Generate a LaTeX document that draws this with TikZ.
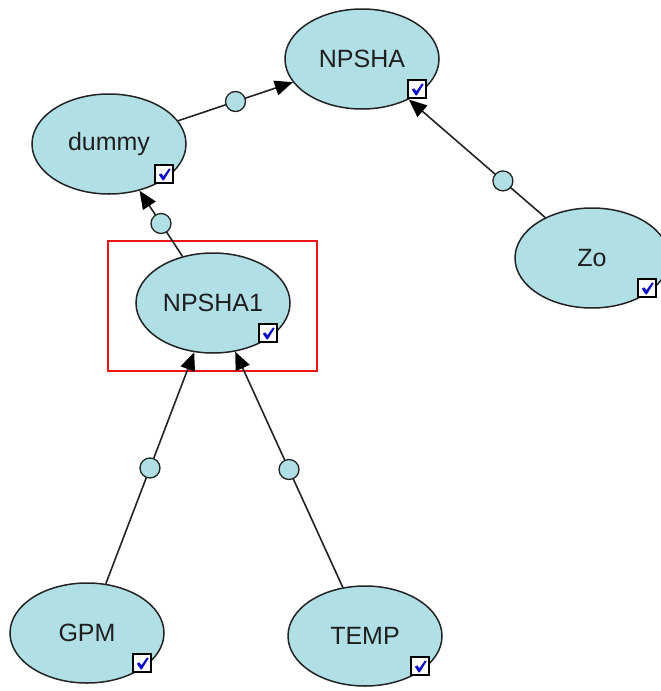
\documentclass[tikz,border=0pt]{standalone}
\usepackage{fontspec}
\setmainfont{Liberation Sans}
\usetikzlibrary{arrows.meta,shapes.geometric}

\definecolor{nodefill}{RGB}{176,224,230}
\definecolor{edgegray}{RGB}{35,35,35}
\definecolor{checkblue}{RGB}{15,15,200}
\definecolor{selred}{RGB}{235,20,20}

\tikzset{
  varnode/.style={ellipse, draw=edgegray, line width=1.5pt, fill=nodefill,
    minimum width=154pt, minimum height=100pt, inner sep=0pt,
    font=\fontsize{25}{30}\selectfont, text=black!88},
  link/.style={draw=edgegray, line width=1.6pt,
    -{Triangle[length=18pt,width=15pt,color=black]}},
  knob/.style={circle, draw=edgegray, line width=1.3pt, fill=nodefill,
    minimum size=20pt, inner sep=0pt},
  tickbox/.style={rectangle, draw=black, line width=1.4pt, fill=white,
    minimum size=18pt, inner sep=0pt},
  pics/tick/.style={code={
    \fill[checkblue] (-5.2,0.6) -- (-2.6,-0.6) -- (-0.6,2.2) -- (5.0,-5.6)
      -- (6.6,-4.6) -- (-0.2,6.4) -- (-1.4,6.4) -- cycle;
  }},
}

\begin{document}
\begin{tikzpicture}[x=1pt,y=-1pt]
  \useasboundingbox (0,0) rectangle (661,691);
  \clip (0,0) rectangle (661,691);

  % variables
  \node[varnode] (npsha)  at (362,59)  {NPSHA};
  \node[varnode] (dummy)  at (109,144) {dummy};
  \node[varnode] (zo)     at (592,258) {Zo};
  \node[varnode] (npsha1) at (213,303) {NPSHA1};
  \node[varnode] (gpm)    at (87,633)  {GPM};
  \node[varnode] (temp)   at (365,636) {TEMP};

  % selection frame round NPSHA1
  \draw[selred, line width=1.5pt] (108,241) rectangle (317,371);

  % links with their midpoint knobs
  \draw[link] (dummy)  -- node[knob, pos=0.5]  (k1) {} (npsha);
  \draw[link] (zo)     -- node[knob, pos=0.31] (k2) {} (npsha);
  \draw[link] (npsha1) -- node[knob, pos=0.5]  (k3) {} (dummy);
  \draw[link] (gpm)    -- node[knob, pos=0.5]  (k4) {} (npsha1);
  \draw[link] (temp)   -- node[knob, pos=0.5]  (k5) {} (npsha1);

  % check boxes at the lower right of each variable
  \foreach \v in {npsha,dummy,zo,npsha1,gpm,temp}{
    \node[tickbox] (\v-box) at ([shift={(55,30)}]\v.center) {};
    \pic at (\v-box.center) {tick};
  }
\end{tikzpicture}
\end{document}
